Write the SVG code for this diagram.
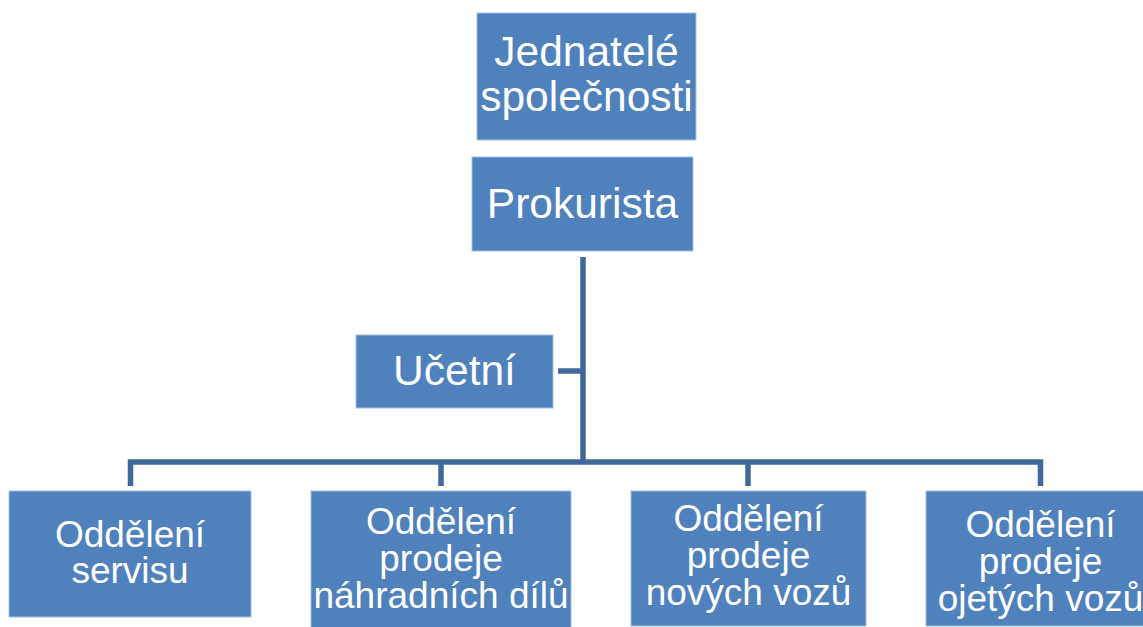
<svg xmlns="http://www.w3.org/2000/svg" width="1143" height="627" viewBox="0 0 1143 627">
<style>
.box{fill:#4F81BD;stroke:#A9C0DE;stroke-width:1}
.t{fill:#FFFFFF;font-family:"Liberation Sans",Arial,sans-serif;text-anchor:middle}
.big{font-size:42.5px}
.sm{font-size:37px}
.c{fill:none;stroke:#41689A;stroke-width:5.5;stroke-linejoin:miter;stroke-linecap:butt}
</style>
<rect width="1143" height="627" fill="#FFFFFF"/>
<g id="connectors">
<path class="c" d="M583,257 V462"/>
<path class="c" d="M558,371 H583"/>
<path class="c" d="M130.5,486 V462 H1040.5 V486"/>
<path class="c" d="M441,462 V486"/>
<path class="c" d="M748,462 V486"/>
</g>
<g id="jednatele">
<rect class="box" x="477" y="13" width="219" height="127"/>
<text class="t big" x="586.5" y="66">Jednatelé</text>
<text class="t big" x="586.5" y="111">společnosti</text>
</g>
<g id="prokurista">
<rect class="box" x="472" y="157" width="221" height="94"/>
<text class="t big" x="582.5" y="218">Prokurista</text>
</g>
<g id="ucetni">
<rect class="box" x="356" y="335" width="197" height="73"/>
<text class="t big" x="454.5" y="385">Učetní</text>
</g>
<g id="servis">
<rect class="box" x="9" y="491" width="242" height="126"/>
<text class="t sm" x="130" y="547">Oddělení</text>
<text class="t sm" x="130" y="583">servisu</text>
</g>
<g id="dily">
<rect class="box" x="311" y="491" width="260" height="150"/>
<text class="t sm" x="441" y="534">Oddělení</text>
<text class="t sm" x="441" y="571">prodeje</text>
<text class="t sm" x="441" y="608">náhradních dílů</text>
</g>
<g id="nove">
<rect class="box" x="631" y="491" width="235" height="135"/>
<text class="t sm" x="748.5" y="531">Oddělení</text>
<text class="t sm" x="748.5" y="568">prodeje</text>
<text class="t sm" x="748.5" y="605">nových vozů</text>
</g>
<g id="ojete">
<rect class="box" x="926" y="491" width="229" height="135"/>
<text class="t sm" x="1040.5" y="537">Oddělení</text>
<text class="t sm" x="1040.5" y="574">prodeje</text>
<text class="t sm" x="1040.5" y="611">ojetých vozů</text>
</g>
</svg>
